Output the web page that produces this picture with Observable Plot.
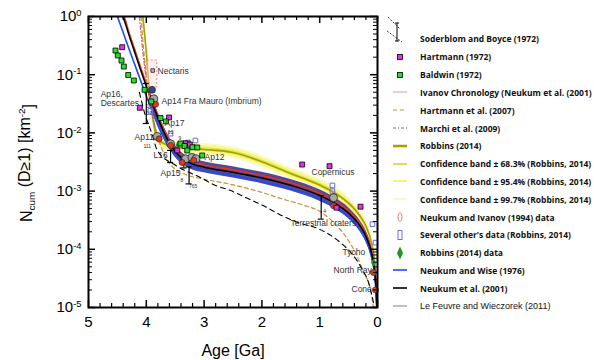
<!DOCTYPE html>
<html><head><meta charset="utf-8">
<script src="https://cdn.jsdelivr.net/npm/d3@7"></script>
<script src="https://cdn.jsdelivr.net/npm/@observablehq/plot@0.6"></script>
<style>
body{margin:0;background:#fff;}
#wrap{position:relative;width:594px;height:360px;overflow:hidden;}
#legend{position:absolute;left:385px;top:0;width:209px;height:360px;}
.row{position:absolute;left:0;height:18px;display:flex;align-items:center;white-space:nowrap;font-family:"Open Sans",sans-serif;font-weight:700;font-size:8.5px;color:#111;}
.row svg{width:30px;height:18px;overflow:visible;flex:none;}
.row span{margin-left:5px;}
</style></head><body><div id="wrap"><div id="chart"></div><div id="legend"></div></div>
<script>
// ---------- axis ticks ----------
const xMajorTicks = [5, 4, 3, 2, 1, 0];
const yMajorTicks = [1e-5, 1e-4, 1e-3, 1e-2, 1e-1, 1];

// ---------- curves (age in Ga, N cumulative D>=1 km^-2) ----------
const neukumAge = [4.42,4.4,4.3,4.2,4.1,4.0,3.9,3.8,3.7,3.6,3.5,3.4,3.3,3.2,3.0,2.5,2.0,1.5,1.0,0.7,0.5,0.3,0.2,0.1,0.05,0.02,0.012];
const neukumN   = [1.04,0.955,0.479,0.241,0.122,0.063,0.033,0.0181,0.0105,0.00674,0.00479,0.00378,0.00323,0.00291,0.00257,0.0021,0.00168,0.00126,0.00084,0.000587,0.000419,0.000251,0.000168,8.4e-5,4.2e-5,1.68e-5,1.0e-5];

const ivanovAge = [4.38,4.3,4.2,4.1,4.0,3.9,3.8,3.7,3.6,3.5,3.4,3.3,3.2,3.0,2.5,2.0,1.5,1.0,0.7,0.5,0.3,0.2,0.1,0.05,0.02,0.011];
const ivanovN   = [1.0,0.53,0.27,0.135,0.07,0.037,0.02,0.0117,0.0075,0.0053,0.0042,0.0036,0.0032,0.00283,0.00231,0.00185,0.00139,0.00092,0.00065,0.00046,0.000276,0.000185,9.2e-5,4.6e-5,1.85e-5,1.0e-5];

const wiseAge = [4.5,4.4,4.3,4.2,4.1,4.0,3.9,3.8,3.7,3.6,3.5,3.4,3.2,3.0,2.5,2.0,1.5,1.0,0.7,0.5,0.3,0.2,0.1,0.05,0.02,0.012];
const wiseN   = [1.0,0.53,0.28,0.15,0.08,0.043,0.024,0.0135,0.0083,0.0056,0.0042,0.0034,0.0027,0.0023,0.00185,0.00145,0.00108,0.00072,0.0005,0.00036,0.000215,0.000143,7.2e-5,3.6e-5,1.45e-5,8.6e-6];

const lfBandAge  = [3.9,3.8,3.7,3.6,3.5,3.4,3.3,3.2,3.0,2.5,2.0,1.5,1.0,0.7,0.5,0.3,0.2,0.1,0.05,0.02,0.012];
const lfBandLow  = [0.026,0.0145,0.0084,0.0054,0.0038,0.003,0.0026,0.0023,0.00206,0.00168,0.00134,0.001,0.00067,0.00047,0.000335,0.0002,0.000134,6.7e-5,3.4e-5,1.35e-5,8e-6];
const lfBandHigh = [0.041,0.0226,0.0131,0.0084,0.006,0.0047,0.004,0.0036,0.0032,0.00262,0.0021,0.00158,0.00105,0.00073,0.00052,0.00031,0.00021,0.000105,5.2e-5,2.1e-5,1.25e-5];

const robbinsAge = [4.06,4.0,3.95,3.9,3.85,3.8,3.7,3.5,3.0,2.5,2.0,1.5,1.0,0.7,0.5,0.3,0.2,0.1,0.05,0.02,0.008];
const robbinsN   = [1.0,0.25,0.062,0.022,0.011,0.0078,0.0066,0.0058,0.0052,0.0046,0.0032,0.0020,0.00127,0.00088,0.00062,0.00037,0.00025,0.000125,6.2e-5,2.5e-5,1e-5];
const robbinsBandFactor = {c68: 1.08, c95: 1.17, c99: 1.27};

const hartmann07Age = [4.09,4.05,4.0,3.95,3.9,3.8,3.7,3.6,3.4,3.0,2.6,2.0,1.68,1.3,1.0,0.76,0.5,0.35,0.24,0.12,0.07];
const hartmann07N   = [1.0,0.3,0.1,0.045,0.022,0.0085,0.0045,0.003,0.0021,0.0016,0.00135,0.00095,0.00075,0.00058,0.00045,0.00029,0.00014,7.5e-5,4e-5,2e-5,1e-5];

const marchiAge = [4.12,4.05,4.0,3.95,3.9,3.85,3.8,3.75];
const marchiN   = [1.0,0.2,0.08,0.04,0.022,0.013,0.009,0.007];

const soderAge = [4.12,4.04,3.9,3.81,3.5,3.06,2.84,2.54,2.25,1.97,1.68,1.38,1.0,0.64,0.45,0.29,0.12,0.06,0.03];
const soderN   = [0.05,0.024,0.0095,0.005,0.0028,0.0017,0.0013,0.00102,0.00075,0.00056,0.00039,0.00029,0.00022,0.00013,8.5e-5,5e-5,2e-5,1e-5,5e-6];

// ---------- data points ----------
const hartmann72Age = [4.417,4.112,3.607,3.322,3.247,3.465,1.303,0.83,0.294,0.709];
const hartmann72N   = [0.297,0.027,0.0184,0.00665,0.0063,0.0050,0.00286,0.00268,0.00054,0.00052];

const baldwinAge = [4.533,4.493,4.429,4.389,4.313,4.216,4.031,3.915,3.754,3.659,3.408,3.339,3.201,3.119,3.292,3.033];
const baldwinN   = [0.26,0.214,0.175,0.138,0.0988,0.0795,0.0551,0.0347,0.018,0.0157,0.00658,0.00596,0.00568,0.00561,0.00499,0.00409];

const grayAge = [3.87,3.81,3.58,3.32,3.21,3.14,0.76];
const grayN   = [0.0385,0.0087,0.0065,0.0036,0.0038,0.0036,0.00077];

const redAge = [3.84,3.78,3.58,3.38,3.18,0.76,0.07,0.035];
const redN   = [0.031,0.0079,0.0061,0.0031,0.0034,0.00056,4e-5,2e-5];

const navyAge = [3.9];
const navyN   = [0.055];

const othersAge = [3.93,3.58,3.15,3.28,0.087,0.035,0.78,0.78];
const othersN   = [0.024,0.0097,0.0074,0.0068,0.00027,0.00013,0.00125,0.001];

const robbinsDataAge = [0.07,3.45,3.25];
const robbinsDataN   = [5.9e-5,0.0062,0.0066];

const errAge = [4.0,3.58,3.26,3.35,0.974];
const errLow = [0.0145,0.0031,0.00133,0.0025,0.00033];
const errHigh= [0.0706,0.005,0.0026,0.0035,0.00084];

const nectarisBox = {age1: 3.984, age2: 3.81, n1: 0.061, n2: 0.175, age: 3.89, n: 0.118};

const labelText = ["Nectaris","Ap16,","Descartes","Ap14 Fra Mauro (Imbrium)","Ap17","Ap11","L16","Ap15","Ap12","Copernicus","Terrestrial craters","Tycho","North Ray","Cone"];
const labelAge  = [3.806,4.79,4.79,3.737,3.685,4.204,3.875,3.754,2.993,1.142,1.505,0.606,0.761,0.45];
const labelN    = [0.1135,0.0466,0.0327,0.0353,0.0145,0.00834,0.00409,0.002,0.00378,0.00209,0.000283,8.8e-5,4.32e-5,2.04e-5];

const smallText = ["13","12","111","9","8","765","10","4"];
const smallAge  = [3.997,3.997,4.05,3.443,3.408,3.261,3.628,0.94];
const smallN    = [0.0284,0.0216,0.0059,0.00817,0.00152,0.0012,0.0103,0.00045];

const legendNames = ["Soderblom and Boyce (1972)","Hartmann (1972)","Baldwin (1972)","Ivanov Chronology (Neukum et al. (2001)","Hartmann et al. (2007)","Marchi et al. (2009)","Robbins (2014)","Confidence band \u00b1 68.3% (Robbins, 2014)","Confidence band \u00b1 95.4% (Robbins, 2014)","Confidence band \u00b1 99.7% (Robbins, 2014)","Neukum and Ivanov (1994) data","Several other's data (Robbins, 2014)","Robbins (2014) data","Neukum and Wise (1976)","Neukum et al. (2001)","Le Feuvre and Wieczorek (2011)"];

// ---------- build tables ----------
const rows = (a, n) => a.map((d, i) => ({age: d, n: n[i]}));
const neukum = rows(neukumAge, neukumN);
const ivanov = rows(ivanovAge, ivanovN);
const wise = rows(wiseAge, wiseN);
const lfBand = lfBandAge.map((d, i) => ({age: d, lo: lfBandLow[i], hi: lfBandHigh[i]}));
const robbins = rows(robbinsAge, robbinsN);
const band = f => robbinsAge.map((d, i) => ({age: d, lo: robbinsN[i] / f, hi: robbinsN[i] * f}));
const hart07 = rows(hartmann07Age, hartmann07N);
const marchi = rows(marchiAge, marchiN);
const soder = rows(soderAge, soderN);
const hart72 = rows(hartmann72Age, hartmann72N);
const baldwin = rows(baldwinAge, baldwinN);
const gray = rows(grayAge, grayN);
const red = rows(redAge, redN);
const navy = rows(navyAge, navyN);
const others = rows(othersAge, othersN);
const robData = rows(robbinsDataAge, robbinsDataN);
const errs = errAge.map((d, i) => ({age: d, lo: errLow[i], hi: errHigh[i]}));
const labels = labelText.map((t, i) => ({t, age: labelAge[i], n: labelN[i]}));
const smalls = smallText.map((t, i) => ({t, age: smallAge[i], n: smallN[i]}));

const xMinor = d3.range(0, 5.0001, 0.2).filter(v => Math.abs(v - Math.round(v)) > 1e-6);
const yMinor = [];
for (let e = -5; e < 0; e++) for (let k = 2; k <= 9; k++) yMinor.push(k * Math.pow(10, e));

const curve = "monotone-x";
const chart = Plot.plot({
  width: 594, height: 360,
  marginLeft: 88, marginRight: 217, marginTop: 16, marginBottom: 53,
  style: {fontFamily: "Liberation Sans, Arial, sans-serif", background: "white"},
  x: {domain: [5, 0]},
  y: {type: "log", domain: [1e-5, 1]},
  marks: [
    Plot.areaY(band(robbinsBandFactor.c99), {x: "age", y1: "lo", y2: "hi", fill: "#fbfbc4", curve, clip: true}),
    Plot.areaY(band(robbinsBandFactor.c95), {x: "age", y1: "lo", y2: "hi", fill: "#f7f78a", curve, clip: true}),
    Plot.areaY(band(robbinsBandFactor.c68), {x: "age", y1: "lo", y2: "hi", fill: "#e6e650", curve, clip: true}),
    Plot.line(robbins, {x: "age", y: "n", stroke: "#a3a300", strokeWidth: 1.6, curve, clip: true}),
    Plot.areaY(lfBand, {x: "age", y1: "lo", y2: "hi", fill: "#54489a", curve, clip: true}),
    Plot.line(wise, {x: "age", y: "n", stroke: "#1c4df2", strokeWidth: 1.6, curve, clip: true}),
    Plot.line(ivanov, {x: "age", y: "n", stroke: "#e8321c", strokeWidth: 1.6, curve, clip: true}),
    Plot.line(neukum, {x: "age", y: "n", stroke: "black", strokeWidth: 1.5, curve, clip: true}),
    Plot.line(hart07, {x: "age", y: "n", stroke: "#c99040", strokeWidth: 1.2, strokeDasharray: "4,3", curve, clip: true}),
    Plot.line(marchi, {x: "age", y: "n", stroke: "#d04848", strokeWidth: 1, strokeDasharray: "4,2,1,2", curve, clip: true}),
    Plot.line(soder, {x: "age", y: "n", stroke: "black", strokeWidth: 1.1, strokeDasharray: "5,4", curve, clip: true}),
    Plot.rect([nectarisBox], {x1: "age1", x2: "age2", y1: "n1", y2: "n2", fill: "#ffe0e0", fillOpacity: 0.5, stroke: "#f08080", strokeDasharray: "2,2", strokeWidth: 1}),
    Plot.ruleX(errs, {x: "age", y1: "lo", y2: "hi", stroke: "black", strokeWidth: 1.2}),
    Plot.ruleY(errs, {y: "lo", x1: "age", x2: "age", insetLeft: -3, insetRight: -3, stroke: "black", strokeWidth: 1.2}),
    Plot.ruleY(errs, {y: "hi", x1: "age", x2: "age", insetLeft: -3, insetRight: -3, stroke: "black", strokeWidth: 1.2}),
    Plot.dot(others, {x: "age", y: "n", symbol: "square", r: 2.6, stroke: "#6a6af0", fill: "none", strokeWidth: 1}),
    Plot.dot(gray, {x: "age", y: "n", r: 4, fill: "#a8a8a8", stroke: "#222", strokeWidth: 0.8}),
    Plot.dot(red, {x: "age", y: "n", r: 3, fill: "#e0391c", stroke: "#333", strokeWidth: 0.8}),
    Plot.dot(navy, {x: "age", y: "n", r: 3.5, fill: "#34468a", stroke: "#222", strokeWidth: 0.6}),
    Plot.dot(robData, {x: "age", y: "n", symbol: "diamond", r: 2.6, fill: "#1a9a1a"}),
    Plot.dot([nectarisBox], {x: "age", y: "n", symbol: "square", r: 2, fill: "#f0a0a0", stroke: "#222", strokeWidth: 0.8}),
    Plot.dot(hart72, {x: "age", y: "n", symbol: "square", r: 2.8, fill: "#e830e8", stroke: "black", strokeWidth: 0.8}),
    Plot.dot(baldwin, {x: "age", y: "n", symbol: "square", r: 2.8, fill: "#22e022", stroke: "black", strokeWidth: 0.8}),
    Plot.text(labels, {x: "age", y: "n", text: "t", textAnchor: "start", fontSize: 8.5, fill: "#333"}),
    Plot.text(smalls, {x: "age", y: "n", text: "t", textAnchor: "start", fontSize: 5, fill: "#333"}),
    // ticks (inward)
    Plot.ruleX(xMajorTicks, {x: d => d, y1: 1e-5, y2: 1e-5, insetTop: -7, stroke: "black", strokeWidth: 1.5}),
    Plot.ruleX(xMinor, {x: d => d, y1: 1e-5, y2: 1e-5, insetTop: -4, stroke: "black", strokeWidth: 1.2}),
    Plot.ruleX(xMajorTicks, {x: d => d, y1: 1, y2: 1, insetBottom: -7, stroke: "black", strokeWidth: 1.5}),
    Plot.ruleX(xMinor, {x: d => d, y1: 1, y2: 1, insetBottom: -4, stroke: "black", strokeWidth: 1.2}),
    Plot.ruleY(yMajorTicks, {y: d => d, x1: 5, x2: 5, insetRight: -7, stroke: "black", strokeWidth: 1.5}),
    Plot.ruleY(yMinor, {y: d => d, x1: 5, x2: 5, insetRight: -4, stroke: "black", strokeWidth: 1}),
    Plot.ruleY(yMajorTicks, {y: d => d, x1: 0, x2: 0, insetLeft: -7, stroke: "black", strokeWidth: 1.5}),
    Plot.ruleY(yMinor, {y: d => d, x1: 0, x2: 0, insetLeft: -4, stroke: "black", strokeWidth: 1}),
    Plot.frame({stroke: "black", strokeWidth: 2}),
    Plot.axisX({ticks: xMajorTicks, tickSize: 0, tickPadding: 9, fontSize: 15, tickFormat: d => String(d), label: null}),
    Plot.axisY({ticks: yMajorTicks, tickSize: 0, tickPadding: 7, fontSize: 15, tickFormat: d => "10^" + Math.round(Math.log10(d)), label: null})
  ]
});
document.getElementById("chart").appendChild(chart);

// superscripts on y tick labels
const svg = d3.select(chart);
svg.selectAll("text").each(function() {
  const t = this.textContent;
  if (/^10\^/.test(t)) {
    const exp = t.slice(3);
    const el = d3.select(this);
    el.text("10");
    el.append("tspan").attr("dy", "-0.55em").attr("font-size", "0.62em").text(exp);
  }
});
// axis titles
const yl = svg.append("text").attr("transform", "translate(32,163) rotate(-90)").attr("text-anchor", "middle")
  .attr("font-size", 16).attr("fill", "black");
yl.append("tspan").text("N");
yl.append("tspan").attr("dy", "0.3em").attr("font-size", "0.62em").text("cum");
yl.append("tspan").attr("dy", "-0.3em").text(" (D\u22651) [km");
yl.append("tspan").attr("dy", "-0.55em").attr("font-size", "0.62em").text("-2");
yl.append("tspan").attr("dy", "0.55em").text("]");
svg.append("text").attr("x", 233).attr("y", 356).attr("text-anchor", "middle").attr("font-size", 16).attr("fill", "black").text("Age [Ga]");

// ---------- legend ----------
const legend = document.getElementById("legend");
const sym = [
  "",
  '<rect x="12.5" y="6.5" width="5" height="5" fill="#e830e8" stroke="black" stroke-width="0.8"/>',
  '<rect x="12.5" y="6.5" width="5" height="5" fill="#22e022" stroke="black" stroke-width="0.8"/>',
  '<line x1="8" x2="22" y1="9" y2="9" stroke="#f4a8a8" stroke-width="1.2"/>',
  '<line x1="8" x2="22" y1="9" y2="9" stroke="#c99040" stroke-width="1.2" stroke-dasharray="4,3"/>',
  '<line x1="8" x2="22" y1="9" y2="9" stroke="#d04848" stroke-width="1" stroke-dasharray="3,2,1,2"/>',
  '<line x1="8" x2="22" y1="9" y2="9" stroke="#a3a300" stroke-width="2.5"/>',
  '<line x1="8" x2="22" y1="9" y2="9" stroke="#dcdc5a" stroke-width="2"/>',
  '<line x1="8" x2="22" y1="9" y2="9" stroke="#f4f470" stroke-width="2"/>',
  '<line x1="8" x2="22" y1="9" y2="9" stroke="#fafac8" stroke-width="2"/>',
  '<ellipse cx="15" cy="9" rx="2" ry="4.5" fill="none" stroke="#f08080" stroke-width="1"/>',
  '<rect x="13" y="4.5" width="4" height="9" fill="none" stroke="#6a6af0" stroke-width="1"/>',
  '<polygon points="15,2.5 18,9 15,15.5 12,9" fill="#1a9a1a"/>',
  '<line x1="8" x2="22" y1="9" y2="9" stroke="#1c4df2" stroke-width="1.6"/>',
  '<line x1="8" x2="22" y1="9" y2="9" stroke="black" stroke-width="1.6"/>',
  '<line x1="8" x2="22" y1="9" y2="9" stroke="#9a88c0" stroke-width="1.2"/>'
];
sym[0] = '<line x1="12" x2="12" y1="-6" y2="12" stroke="black" stroke-width="1"/>' +
  '<line x1="10" x2="14" y1="-6" y2="-6" stroke="black" stroke-width="1"/>' +
  '<line x1="10" x2="14" y1="12" y2="12" stroke="black" stroke-width="1"/>' +
  '<line x1="3" x2="15" y1="-12" y2="0" stroke="black" stroke-width="0.8" stroke-dasharray="2,1.5"/>' +
  '<line x1="2" x2="17" y1="2" y2="13" stroke="black" stroke-width="0.8" stroke-dasharray="2,1.5"/>';
legendNames.forEach((name, i) => {
  const cy = (i === 0 ? 38 : 39 + 17.8 * i);
  const div = document.createElement("div");
  div.className = "row";
  div.style.top = (cy - 9) + "px";
  if (i === legendNames.length - 1) { div.style.fontFamily = "Liberation Sans, Arial, sans-serif"; div.style.fontWeight = "400"; div.style.fontSize = "9px"; }
  div.innerHTML = '<svg viewBox="0 0 30 18">' + sym[i] + '</svg><span>' + name + '</span>';
  legend.appendChild(div);
});
</script>
</body></html>
